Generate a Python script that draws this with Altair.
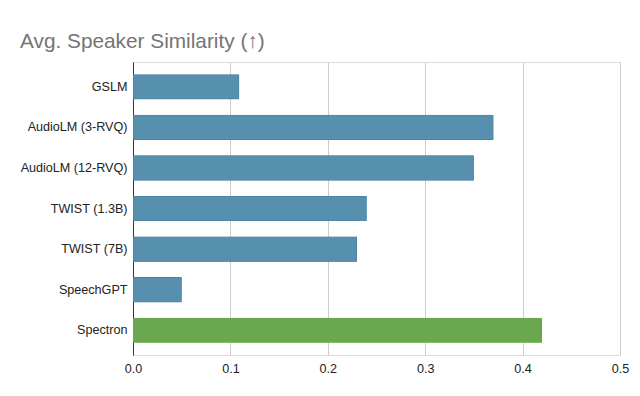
import altair as alt
import pandas as pd

models = ["GSLM", "AudioLM (3-RVQ)", "AudioLM (12-RVQ)", "TWIST (1.3B)", "TWIST (7B)", "SpeechGPT", "Spectron"]
similarity = [0.109, 0.37, 0.35, 0.24, 0.23, 0.05, 0.42]
group = ["baseline", "baseline", "baseline", "baseline", "baseline", "baseline", "ours"]
x_ticks = [0.0, 0.1, 0.2, 0.3, 0.4, 0.5]

df = pd.DataFrame({"model": models, "sim": similarity, "group": group})

FONT = "Arial, Liberation Sans, sans-serif"

bars = alt.Chart(df).mark_bar(strokeWidth=1, cornerRadius=1).encode(
    y=alt.Y("model:N", sort=models,
            scale=alt.Scale(paddingInner=0.38, paddingOuter=0.3),
            axis=alt.Axis(title=None, ticks=False, domain=True, domainColor="#333333",
                          labelFont=FONT, labelFontSize=12.6, labelColor="#222222",
                          labelPadding=6, grid=False)),
    x=alt.X("sim:Q", scale=alt.Scale(domain=[0, 0.5], nice=False),
            axis=alt.Axis(title=None, values=x_ticks, format=".1f", ticks=False, domain=False,
                          grid=True, gridColor="#cccccc", gridWidth=1, labelFlush=False,
                          labelFont=FONT, labelFontSize=12.6, labelColor="#222222",
                          labelPadding=7)),
    color=alt.Color("group:N", scale=alt.Scale(domain=["baseline", "ours"],
                                               range=["#5790ae", "#6aa84f"]), legend=None),
    stroke=alt.Stroke("group:N", scale=alt.Scale(domain=["baseline", "ours"],
                                                 range=["#3f7a9a", "#6aa84f"]), legend=None),
)

chart = bars.properties(
    width=487, height=293,
    title=alt.TitleParams("Avg. Speaker Similarity (↑)", anchor="start", frame="group",
                          dx=-113, dy=-5,
                          font=FONT, fontSize=20.8, fontWeight="normal", color="#757575"),
    padding={"left": 125, "top": 54, "right": 12, "bottom": 33},
    autosize="none",
).configure_view(stroke=None).configure(background="white")

chart.save("out.html", embed_options={"renderer": "svg", "actions": False})
